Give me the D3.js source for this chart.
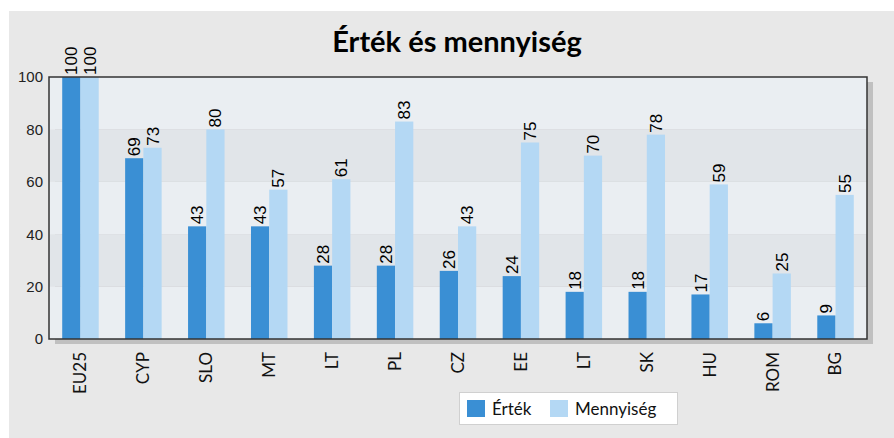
<!DOCTYPE html>
<html>
<head>
<meta charset="utf-8">
<script src="https://cdn.jsdelivr.net/npm/d3@7"></script>
<style>
  body { margin: 0; background: #fff; }
  svg { display: block; }
</style>
</head>
<body>
<div id="container"></div>
<script>
"use strict";

const categories = ["EU25", "CYP", "SLO", "MT", "LT", "PL", "CZ", "EE", "LT ", "SK", "HU", "ROM", "BG"];
const ertek = [100, 69, 43, 43, 28, 28, 26, 24, 18, 18, 17, 6, 9];
const mennyiseg = [100, 73, 80, 57, 61, 83, 43, 75, 70, 78, 59, 25, 55];
const seriesNames = ["Érték", "Mennyiség"];
const yTicks = [0, 20, 40, 60, 80, 100];

const colors = ["#3a8fd4", "#b4d8f4"];
const width = 894, height = 438;
const plot = { left: 49, right: 867, top: 77, bottom: 339 };

const svg = d3.select("#container")
  .append("svg")
  .attr("width", width)
  .attr("height", height);

// outer panel
svg.append("rect")
  .attr("x", 9).attr("y", 11)
  .attr("width", width - 9).attr("height", height - 11)
  .attr("fill", "#e8e8e8");

svg.append("text")
  .attr("x", 457).attr("y", 52)
  .attr("text-anchor", "middle")
  .style("font-family", "Lato, sans-serif")
  .style("font-weight", "bold")
  .style("font-size", "29px")
  .attr("fill", "#000")
  .text("Érték és mennyiség");

const x = d3.scaleBand()
  .domain(categories)
  .range([plot.left, plot.right])
  .paddingInner(0.42)
  .paddingOuter(0.21);

const x1 = d3.scaleBand()
  .domain(seriesNames)
  .range([0, x.bandwidth()]);

const y = d3.scaleLinear()
  .domain([0, 100])
  .range([plot.bottom, plot.top]);

// shadow
svg.append("rect")
  .attr("x", plot.left + 6).attr("y", plot.top + 5)
  .attr("width", plot.right - plot.left).attr("height", plot.bottom - plot.top)
  .attr("fill", "#c0c0c0");

// bands
const bands = d3.range(0, 100, 20);
svg.selectAll("rect.band").data(bands)
  .enter()
  .append("rect")
  .attr("class", "band")
  .attr("x", plot.left)
  .attr("y", (d) => y(d + 20))
  .attr("width", plot.right - plot.left)
  .attr("height", (d) => y(d) - y(d + 20))
  .attr("fill", (d) => (d / 20) % 2 === 1 ? "#e1e5e9" : "#eaeef2");

const data = categories.map((c, i) => ({ cat: c, values: [ertek[i], mennyiseg[i]] }));

const groups = svg.selectAll("g.grp").data(data)
  .enter()
  .append("g")
  .attr("class", "grp")
  .attr("transform", (d) => `translate(${x(d.cat)},0)`);

groups.selectAll("rect")
  .data((d) => d.values.map((v, k) => ({ v: v, k: k })))
  .enter()
  .append("rect")
  .attr("x", (d) => x1(seriesNames[d.k]))
  .attr("y", (d) => y(d.v))
  .attr("width", x1.bandwidth())
  .attr("height", (d) => y(0) - y(d.v))
  .attr("fill", (d) => colors[d.k]);

groups.selectAll("text")
  .data((d) => d.values.map((v, k) => ({ v: v, k: k })))
  .enter()
  .append("text")
  .attr("transform", (d) => `translate(${x1(seriesNames[d.k]) + x1.bandwidth() / 2 + 6},${y(d.v) - 2}) rotate(-90)`)
  .style("font-family", "'Liberation Sans', Arial, sans-serif")
  .style("font-size", "17px")
  .attr("fill", "#000")
  .text((d) => d.v);

// plot frame
svg.append("rect")
  .attr("x", plot.left).attr("y", plot.top)
  .attr("width", plot.right - plot.left).attr("height", plot.bottom - plot.top)
  .attr("fill", "none")
  .attr("stroke", "#333")
  .attr("stroke-width", 1.5);

// y axis
const yAxis = svg.append("g")
  .attr("transform", `translate(${plot.left},0)`)
  .call(d3.axisLeft(y).tickValues(yTicks).tickSize(0).tickPadding(6));
yAxis.select(".domain").remove();
yAxis.selectAll("text")
  .style("font-family", "'Liberation Sans', Arial, sans-serif")
  .style("font-size", "15px")
  .attr("fill", "#222");

// x axis labels
const xAxis = svg.append("g")
  .attr("transform", `translate(0,${plot.bottom})`)
  .call(d3.axisBottom(x).tickSize(0).tickFormat((d) => d.trim()));
xAxis.select(".domain").remove();
xAxis.selectAll("text")
  .attr("transform", "rotate(-90)")
  .attr("x", -13)
  .attr("y", 0)
  .attr("dy", "0.35em")
  .style("text-anchor", "end")
  .style("font-family", "Lato, sans-serif")
  .style("font-size", "17px")
  .attr("fill", "#111");

// legend
const legend = svg.append("g");
legend.append("rect")
  .attr("x", 459.5).attr("y", 392.5)
  .attr("width", 218).attr("height", 32)
  .attr("fill", "#fff")
  .attr("stroke", "#d0d0d0");

const legendX = [467, 550];
seriesNames.forEach((name, i) => {
  legend.append("rect")
    .attr("x", legendX[i]).attr("y", 400)
    .attr("width", 18).attr("height", 17)
    .attr("fill", colors[i]);
  legend.append("text")
    .attr("x", legendX[i] + 25).attr("y", 415)
    .style("font-family", "Lato, sans-serif")
    .style("font-size", "17px")
    .attr("fill", "#111")
    .text(name);
});
</script>
</body>
</html>
